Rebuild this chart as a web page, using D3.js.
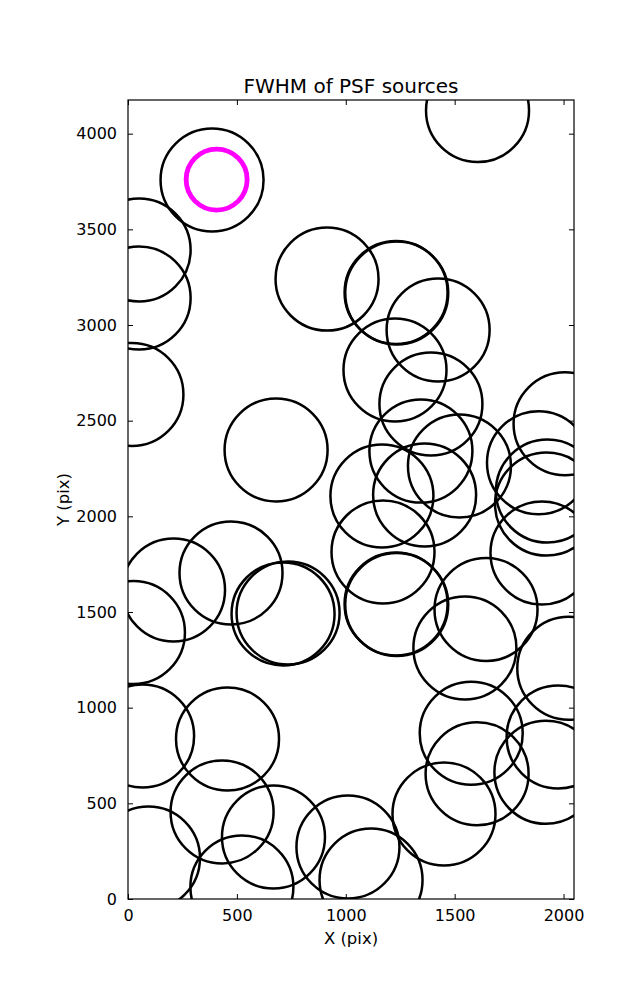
<!DOCTYPE html>
<html>
<head>
<meta charset="utf-8">
<script src="https://cdn.jsdelivr.net/npm/d3@7"></script>
<style>
  html, body { margin: 0; padding: 0; background: #fff; }
  text { font-family: "DejaVu Sans", sans-serif; fill: #000; }
</style>
</head>
<body>
<svg id="chart" width="637" height="1000"></svg>
<script>
// Source positions (pixels on detector)
const srcX = [1605, 386, 51, 51, 18, 914, 1231, 1234, 1424, 1226, 1391, 1345, 1522, 1166, 1362,
  1171, 1231, 1234, 680, 2007, 1885, 1926, 1922, 1901, 1644, 1547, 2024, 1975, 1919, 1576,
  1603, 1451, 1010, 1116, 25, 209, 473, 712, 735, 67, 457, 432, 94, 668, 523];
const srcY = [4121, 3758, 3392, 3141, 2637, 3240, 3170, 3167, 2974, 2765, 2587, 2341, 2263, 2106, 2112,
  1814, 1542, 1539, 2347, 2484, 2280, 2132, 2064, 1808, 1513, 1312, 1206, 847, 662, 866,
  655, 444, 272, 99, 1393, 1615, 1704, 1490, 1495, 852, 836, 455, 214, 324, 63];
// Highlighted source
const hiX = [407];
const hiY = [3760];
const xTicks = [0, 500, 1000, 1500, 2000];
const yTicks = [0, 500, 1000, 1500, 2000, 2500, 3000, 3500, 4000];
const xDomain = [0, 2048];
const yDomain = [0, 4176];

const svg = d3.select("#chart");
const m = {left: 128, right: 574, top: 100, bottom: 899};
const x = d3.scaleLinear().domain(xDomain).range([m.left, m.right]);
const y = d3.scaleLinear().domain(yDomain).range([m.bottom, m.top]);

svg.append("defs").append("clipPath").attr("id", "clip")
  .append("rect").attr("x", m.left).attr("y", m.top)
  .attr("width", m.right - m.left).attr("height", m.bottom - m.top);

const g = svg.append("g").attr("clip-path", "url(#clip)");
g.selectAll("circle.src").data(srcX.map((d, i) => [d, srcY[i]])).join("circle")
  .attr("class", "src")
  .attr("cx", d => x(d[0])).attr("cy", d => y(d[1])).attr("r", 51.5)
  .attr("fill", "none").attr("stroke", "#000").attr("stroke-width", 2.5);
g.selectAll("circle.hi").data(hiX.map((d, i) => [d, hiY[i]])).join("circle")
  .attr("class", "hi")
  .attr("cx", d => x(d[0])).attr("cy", d => y(d[1])).attr("r", 30.5)
  .attr("fill", "none").attr("stroke", "#ff00ff").attr("stroke-width", 4.8);

// Axes (ticks inside, on all four sides)
const tl = 5;
const fs = 16;
const fmt = d3.format("d");
const xb = svg.append("g").attr("transform", `translate(0,${m.bottom})`)
  .call(d3.axisBottom(x).tickValues(xTicks).tickFormat(fmt).tickSizeInner(-tl).tickSizeOuter(0).tickPadding(tl + 6));
const xt = svg.append("g").attr("transform", `translate(0,${m.top})`)
  .call(d3.axisTop(x).tickValues(xTicks).tickSizeInner(-tl).tickSizeOuter(0).tickFormat(""));
const yl = svg.append("g").attr("transform", `translate(${m.left},0)`)
  .call(d3.axisLeft(y).tickValues(yTicks).tickFormat(fmt).tickSizeInner(-tl).tickSizeOuter(0).tickPadding(tl + 6));
const yr = svg.append("g").attr("transform", `translate(${m.right},0)`)
  .call(d3.axisRight(y).tickValues(yTicks).tickSizeInner(-tl).tickSizeOuter(0).tickFormat(""));
[xb, xt, yl, yr].forEach(a => {
  a.select(".domain").remove();
  a.selectAll("line").attr("stroke", "#000").attr("stroke-width", 1);
  a.selectAll("text").attr("font-family", "DejaVu Sans").attr("font-size", fs).attr("fill", "#000");
});

svg.append("rect").attr("x", m.left).attr("y", m.top)
  .attr("width", m.right - m.left).attr("height", m.bottom - m.top)
  .attr("fill", "none").attr("stroke", "#000").attr("stroke-width", 1.2);

svg.append("text").attr("x", (m.left + m.right) / 2).attr("y", 93)
  .attr("text-anchor", "middle").attr("font-size", 20).text("FWHM of PSF sources");
svg.append("text").attr("x", (m.left + m.right) / 2).attr("y", 944)
  .attr("text-anchor", "middle").attr("font-size", 16.5).text("X (pix)");
svg.append("text").attr("transform", `translate(69,${(m.top + m.bottom) / 2}) rotate(-90)`)
  .attr("text-anchor", "middle").attr("font-size", 16.5).text("Y (pix)");
</script>
</body>
</html>
